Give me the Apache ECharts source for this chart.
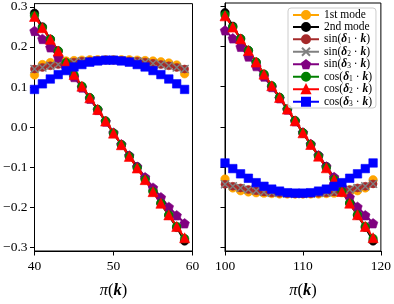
<!DOCTYPE html>
<html><head><meta charset="utf-8">
<script src="https://cdn.jsdelivr.net/npm/echarts@6/dist/echarts.min.js"></script>
<style>html,body{margin:0;padding:0;background:#fff}#c{width:394px;height:304px}</style>
</head><body><div id="c"></div>
<script>
const kLeft=[40,41,42,43,44,45,46,47,48,49,50,51,52,53,54,55,56,57,58,59];
const kRight=[100,101,102,103,104,105,106,107,108,109,110,111,112,113,114,115,116,117,118,119];
const yTicks=[-0.3,-0.2,-0.1,0.0,0.1,0.2,0.3];

const mode1Left=[0.130,0.156,0.161,0.163,0.165,0.166,0.167,0.168,0.168,0.168,0.168,0.168,0.168,0.167,0.166,0.165,0.163,0.160,0.155,0.133];
const mode2Left=[0.284,0.250,0.219,0.190,0.158,0.127,0.101,0.073,0.044,0.015,-0.015,-0.044,-0.072,-0.099,-0.128,-0.159,-0.190,-0.220,-0.250,-0.284];
const sin1Left=[0.145,0.149,0.153,0.156,0.159,0.162,0.164,0.165,0.166,0.167,0.167,0.166,0.165,0.164,0.162,0.159,0.156,0.153,0.149,0.145];
const sin2Left=[0.145,0.149,0.153,0.156,0.159,0.162,0.164,0.165,0.166,0.167,0.167,0.166,0.165,0.164,0.162,0.159,0.156,0.153,0.149,0.145];
const sin3Left=[0.240,0.220,0.199,0.175,0.151,0.125,0.099,0.071,0.043,0.014,-0.014,-0.043,-0.071,-0.099,-0.125,-0.151,-0.175,-0.199,-0.220,-0.240];
const cos1Left=[0.278,0.248,0.219,0.190,0.161,0.131,0.102,0.073,0.044,0.015,-0.015,-0.044,-0.073,-0.102,-0.131,-0.161,-0.190,-0.219,-0.248,-0.278];
const cos2Left=[0.276,0.248,0.219,0.190,0.161,0.131,0.102,0.073,0.044,0.015,-0.015,-0.044,-0.073,-0.102,-0.131,-0.161,-0.190,-0.219,-0.248,-0.276];
const cos3Left=[0.094,0.108,0.120,0.131,0.141,0.150,0.156,0.162,0.165,0.167,0.167,0.165,0.162,0.156,0.150,0.141,0.131,0.120,0.108,0.094];

const mode1Right=[-0.130,-0.152,-0.159,-0.162,-0.164,-0.165,-0.166,-0.167,-0.167,-0.167,-0.167,-0.167,-0.167,-0.166,-0.165,-0.164,-0.162,-0.159,-0.152,-0.132];
const mode2Right=[0.284,0.250,0.219,0.190,0.160,0.130,0.101,0.073,0.044,0.015,-0.015,-0.044,-0.072,-0.099,-0.128,-0.159,-0.190,-0.220,-0.250,-0.284];
const sin1Right=[-0.143,-0.148,-0.152,-0.156,-0.159,-0.162,-0.164,-0.165,-0.166,-0.167,-0.167,-0.166,-0.165,-0.164,-0.162,-0.159,-0.156,-0.152,-0.148,-0.142];
const sin2Right=[-0.143,-0.148,-0.152,-0.156,-0.159,-0.162,-0.164,-0.165,-0.166,-0.167,-0.167,-0.166,-0.165,-0.164,-0.162,-0.159,-0.156,-0.152,-0.148,-0.142];
const sin3Right=[0.240,0.220,0.199,0.175,0.151,0.125,0.099,0.071,0.043,0.014,-0.014,-0.043,-0.071,-0.099,-0.125,-0.151,-0.175,-0.199,-0.220,-0.240];
const cos1Right=[0.278,0.248,0.219,0.190,0.161,0.131,0.102,0.073,0.044,0.015,-0.015,-0.044,-0.073,-0.102,-0.131,-0.161,-0.190,-0.219,-0.248,-0.278];
const cos2Right=[0.276,0.248,0.219,0.190,0.161,0.131,0.102,0.073,0.044,0.015,-0.015,-0.044,-0.073,-0.102,-0.131,-0.161,-0.190,-0.219,-0.248,-0.276];
const cos3Right=[-0.090,-0.104,-0.117,-0.128,-0.139,-0.148,-0.155,-0.160,-0.164,-0.165,-0.165,-0.164,-0.160,-0.155,-0.148,-0.139,-0.128,-0.117,-0.104,-0.090];

const names=['1st mode','2nd mode','sin(δ1·k)','sin(δ2·k)','sin(δ3·k)','cos(δ1·k)','cos(δ2·k)','cos(δ3·k)'];
const richNames={
 '1st mode':'{n|1st mode}','2nd mode':'{n|2nd mode}',
 'sin(δ1·k)':'{n|sin(}{b|δ}{s|1}{n| · }{b|k}{n|)}',
 'sin(δ2·k)':'{n|sin(}{b|δ}{s|2}{n| · }{b|k}{n|)}',
 'sin(δ3·k)':'{n|sin(}{b|δ}{s|3}{n| · }{b|k}{n|)}',
 'cos(δ1·k)':'{n|cos(}{b|δ}{s|1}{n| · }{b|k}{n|)}',
 'cos(δ2·k)':'{n|cos(}{b|δ}{s|2}{n| · }{b|k}{n|)}',
 'cos(δ3·k)':'{n|cos(}{b|δ}{s|3}{n| · }{b|k}{n|)}'
};
const colors=['#FFA500','#000000','#A52A2A','#808080','#800080','#008000','#FF0000','#0000FF'];
const pent='path://M0,-1L0.951,-0.309L0.588,0.809L-0.588,0.809L-0.951,-0.309Z';
const xmark='path://M0,0L1,1M1,0L0,1';
const symbols=['circle','circle','circle',xmark,pent,'circle','triangle','rect'];
const sizes=[8.5,8.5,8,8,9.5,8.5,10,8.5];
const leftSets=[mode1Left,mode2Left,sin1Left,sin2Left,sin3Left,cos1Left,cos2Left,cos3Left];
const rightSets=[mode1Right,mode2Right,sin1Right,sin2Right,sin3Right,cos1Right,cos2Right,cos3Right];

const FONT='Liberation Serif';
const series=[];
[[kLeft,leftSets],[kRight,rightSets]].forEach(([ks,sets],p)=>{
  sets.forEach((vals,i)=>{
    series.push({
      type:'line',name:names[i],xAxisIndex:p,yAxisIndex:p,
      data:ks.map((k,j)=>[k,vals[j]]),
      symbol:symbols[i],symbolSize:sizes[i],showSymbol:true,showAllSymbol:true,
      lineStyle:{color:colors[i],width:2.1},
      itemStyle:{color:colors[i],borderColor:colors[i],borderWidth:i===3?1.4:0.6,opacity:1},
      emphasis:{disabled:true},animation:false,clip:false
    });
  });
});

function yAxis(idx,showLabel){
  return {type:'value',gridIndex:idx,min:-0.309,max:0.308,
    axisLine:{show:true,lineStyle:{color:'#000',width:1}},
    axisTick:{show:true,inside:false,length:4.5,customValues:yTicks,lineStyle:{color:'#000',width:1}},
    axisLabel:{show:showLabel,customValues:yTicks,margin:7,fontFamily:FONT,fontSize:13.5,color:'#000',
      formatter:v=>(v<-1e-9?'\u2212':'')+Math.abs(v).toFixed(1)},
    splitLine:{show:false}};
}
function xAxis(idx,mn,mx){
  return {type:'value',gridIndex:idx,min:mn,max:mx,interval:10,
    axisLine:{show:true,onZero:false,lineStyle:{color:'#000',width:1}},
    axisTick:{show:true,inside:false,length:4.5,lineStyle:{color:'#000',width:1}},
    axisLabel:{margin:8,fontFamily:FONT,fontSize:13.5,color:'#000'},
    splitLine:{show:false},
    name:'{i|π}{n|(}{b|k}{n|)}',nameLocation:'middle',nameGap:31,
    nameTextStyle:{rich:{
      i:{fontFamily:FONT,fontStyle:'italic',fontSize:16.5,color:'#000'},
      n:{fontFamily:FONT,fontSize:16.5,color:'#000'},
      b:{fontFamily:FONT,fontStyle:'italic',fontWeight:'bold',fontSize:16.5,color:'#000'}}}};
}

const chart=echarts.init(document.getElementById('c'),null,{renderer:'canvas'});
chart.setOption({
  animation:false,
  backgroundColor:'#fff',
  grid:[
    {left:34.5,top:3,width:158,height:260,show:true,borderColor:'#000',borderWidth:1,backgroundColor:'transparent'},
    {left:225,top:3,width:157.5,height:260,show:true,borderColor:'#000',borderWidth:1,backgroundColor:'transparent'}
  ],
  xAxis:[xAxis(0,40,60),xAxis(1,100,120)],
  yAxis:[yAxis(0,true),yAxis(1,false)],
  legend:{
    data:names,orient:'vertical',left:288,top:8,
    padding:[1,4,0,4],itemGap:0,itemWidth:26,itemHeight:10,itemTextGap:7,
    backgroundColor:'rgba(255,255,255,0.8)',borderColor:'#cccccc',borderWidth:1,borderRadius:3,
    selectedMode:false,
    formatter:n=>richNames[n],
    textStyle:{fontFamily:FONT,fontSize:11.5,color:'#000',lineHeight:11.5,
      rich:{
        n:{fontFamily:FONT,fontSize:11.5,color:'#000',lineHeight:11.5},
        b:{fontFamily:FONT,fontSize:11.5,fontStyle:'italic',fontWeight:'bold',color:'#000',lineHeight:11.5},
        s:{fontFamily:FONT,fontSize:7.5,color:'#000',lineHeight:7,padding:[4.5,0,0,0]}
      }}
  },
  series:series
});
</script></body></html>
